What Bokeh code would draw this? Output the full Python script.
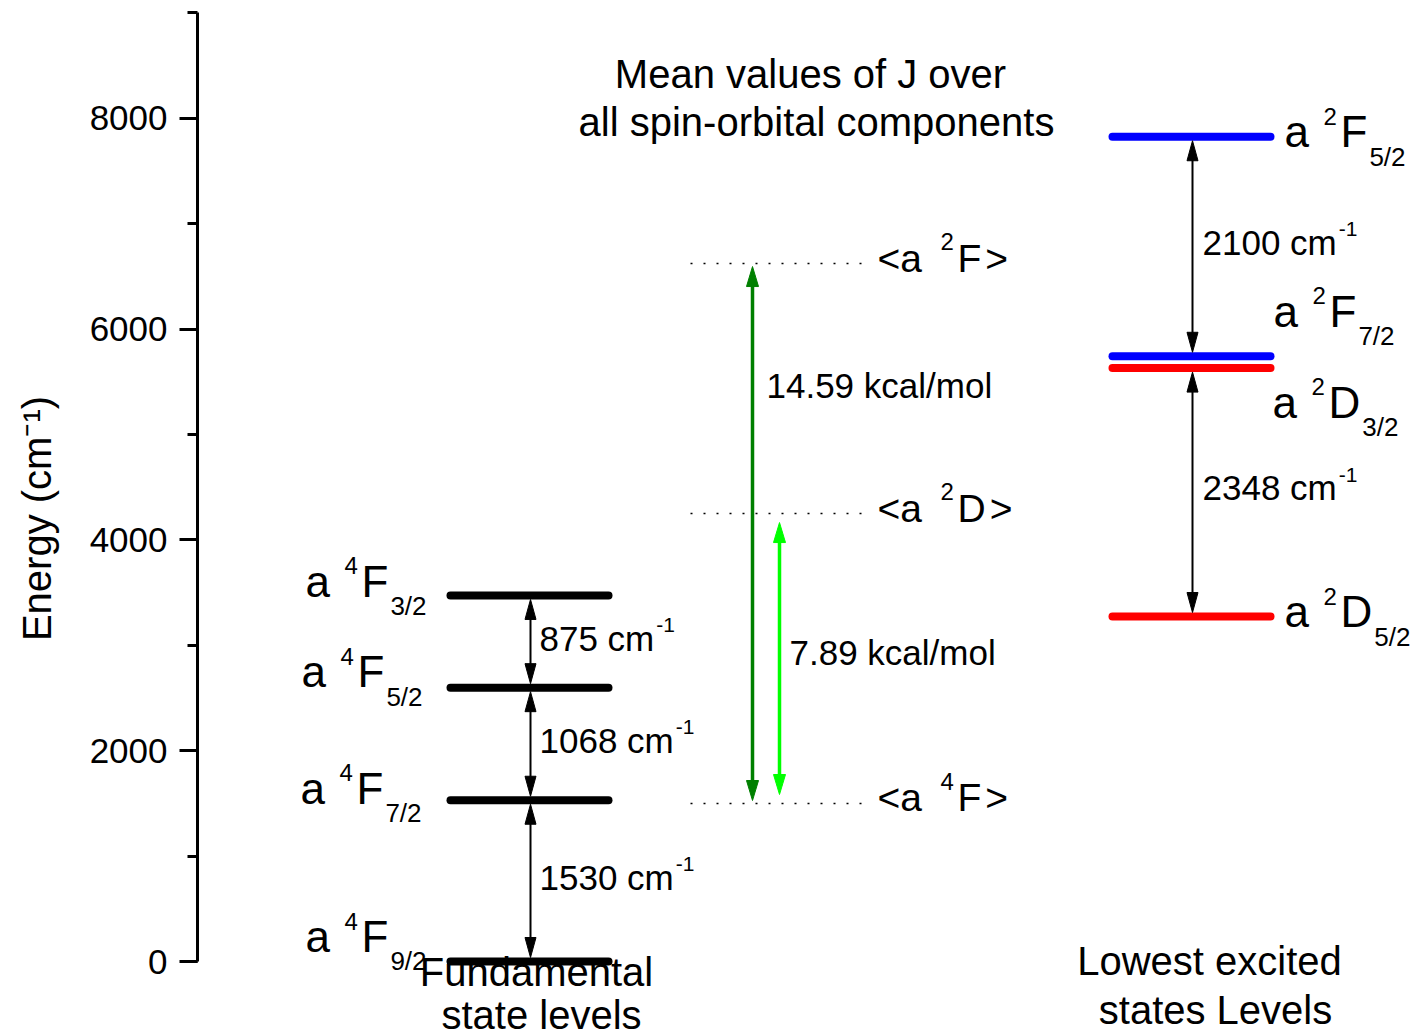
from bokeh.plotting import figure
from bokeh.models import Range1d, SingleIntervalTicker, ColumnDataSource
from bokeh.embed import file_html
from bokeh.resources import INLINE
from bokeh.core.properties import value

# ---------------- data ----------------
ground_J = ["9/2", "7/2", "5/2", "3/2"]
ground_E = [0, 1530, 2598, 3473]
ground_gap_text = ["1530", "1068", "875"]

excited_L = ["D", "D", "F", "F"]
excited_J = ["5/2", "3/2", "7/2", "5/2"]
excited_E = [3273, 5630, 5742, 7825]
excited_color = ["#ff0000", "#ff0000", "#0000ff", "#0000ff"]
excited_gap_pairs = [(0, 1), (2, 3)]
excited_gap_text = ["2348", "2100"]

mean_mult = ["4", "2", "2"]
mean_L = ["F", "D", "F"]
mean_E = [1499, 4250, 6622]
kcal_pairs = [(0, 2), (0, 1)]
kcal_text = ["14.59", "7.89"]

y_ticks_interval = 2000
axis_bounds = (0, 9000)

# ---------------- layout helpers ----------------
W, H = 1416, 1036
LEFT = 197
PX0 = 961.0      # pixel row of energy 0
S = 0.1054       # pixels per cm-1
FONT = "Liberation Sans"

def yd(px):
    return (PX0 - px) / S

def dpx(px):
    return px / S

ADV = {"0": 556, "1": 556, "2": 556, "3": 556, "4": 556, "5": 556, "6": 556,
       "7": 556, "8": 556, "9": 556, " ": 278, "c": 500, "m": 833, ".": 278,
       "F": 611, "D": 722, "a": 556, "<": 584, ">": 584}

def width(s, size):
    return sum(ADV.get(ch, 556) for ch in s) * size / 1000.0

p = figure(width=W, height=H, x_range=Range1d(LEFT, W), y_range=Range1d(yd(H), yd(0)),
           x_axis_location=None, y_axis_location="left", toolbar_location=None,
           output_backend="svg", min_border_left=LEFT, min_border_right=0,
           min_border_top=0, min_border_bottom=0)
p.outline_line_color = None
p.grid.visible = False
p.background_fill_color = "white"
p.border_fill_color = "white"

ax = p.yaxis[0]
ax.ticker = SingleIntervalTicker(interval=y_ticks_interval, num_minor_ticks=2)
ax.bounds = axis_bounds
ax.axis_line_width = 3
ax.major_tick_line_width = 3
ax.minor_tick_line_width = 3
ax.major_tick_out = 18
ax.major_tick_in = 0
ax.minor_tick_out = 10
ax.minor_tick_in = 0
ax.major_label_text_font = FONT
ax.major_label_text_font_size = "35px"
ax.major_label_text_color = "black"
ax.major_label_standoff = 12
ax.axis_label = "Energy (cm\u207b\u00b9)"
ax.axis_label_text_font = FONT
ax.axis_label_text_font_size = "40px"
ax.axis_label_text_font_style = "normal"
ax.axis_label_text_color = "black"
ax.axis_label_standoff = 28

# text collector
texts = {}
def put(x, y, s, size, align="left", baseline="alphabetic"):
    if baseline == "alphabetic":
        y = y + dpx(0.27 * size)   # renderer places alphabetic text slightly low
    key = (size, align, baseline)
    d = texts.setdefault(key, {"x": [], "y": [], "t": []})
    d["x"].append(x); d["y"].append(y); d["t"].append(s)

heads = {}
def arrow(x, e0, e1, color, lw, hw, hl, inset):
    y0 = e0 + dpx(inset)
    y1 = e1 - dpx(inset)
    p.segment(x0=[x], y0=[y0 + dpx(hl * 0.5)], x1=[x], y1=[y1 - dpx(hl * 0.5)],
              line_color=color, line_width=lw)
    d = heads.setdefault(color, {"xs": [], "ys": []})
    d["xs"].append([x, x - hw / 2, x + hw / 2])
    d["ys"].append([y1, y1 - dpx(hl), y1 - dpx(hl)])
    d["xs"].append([x, x - hw / 2, x + hw / 2])
    d["ys"].append([y0, y0 + dpx(hl), y0 + dpx(hl)])

MAIN, SUP, SUB = 44, 24, 26

def term(x0, base, mult, L, J):
    put(x0, base, "a", MAIN)
    put(x0 + 39, base + dpx(21), mult, SUP)
    put(x0 + 56, base, L, MAIN)
    put(x0 + 56 + width(L, MAIN) + 2, base - dpx(20), J, SUB)

# ---------------- ground levels ----------------
GX0, GX1 = 450, 608
p.segment(x0=[GX0] * len(ground_E), y0=ground_E, x1=[GX1] * len(ground_E), y1=ground_E,
          line_color="black", line_width=8, line_cap="round")
left_dy = [-13, 0, -4, -2]
left_x = [305, 300, 301, 305]
for E, J, dy, x0 in zip(ground_E, ground_J, left_dy, left_x):
    term(x0, E - dpx(dy), "4", "F", J)

for (lo, hi), g in zip(zip(ground_E[:-1], ground_E[1:]), ground_gap_text):
    arrow(530, lo, hi, "black", 2, 11, 20, 4)
    mid = (lo + hi) / 2 - dpx(6)
    s = g + " cm"
    put(539, mid, s, 35)
    put(539 + width(s, 35) + 2, mid + dpx(17), "-1", 21)

# ---------------- excited levels ----------------
EX0, EX1 = 1112, 1270
p.segment(x0=[EX0] * len(excited_E), y0=excited_E, x1=[EX1] * len(excited_E), y1=excited_E,
          line_color=excited_color, line_width=8, line_cap="round")
right_dy = [7, 46, -33, 7]
right_x = [1284, 1272, 1273, 1284]
for E, L, J, dy, x0 in zip(excited_E, excited_L, excited_J, right_dy, right_x):
    term(x0, E - dpx(dy), "2", L, J)

for (i, j), g in zip(excited_gap_pairs, excited_gap_text):
    lo, hi = excited_E[i], excited_E[j]
    arrow(1192, lo, hi, "black", 2, 11, 20, 4)
    mid = (lo + hi) / 2 - dpx(5)
    s = g + " cm"
    put(1202, mid, s, 35)
    put(1202 + width(s, 35) + 2, mid + dpx(17), "-1", 21)

# ---------------- mean values ----------------
p.segment(x0=[690] * len(mean_E), y0=mean_E, x1=[862] * len(mean_E), y1=mean_E,
          line_color="black", line_width=1.5, line_dash="2 11")
for E, m, L in zip(mean_E, mean_mult, mean_L):
    base = E - dpx(5)
    put(877, base, "<a", 39)
    put(940, base + dpx(21), m, SUP)
    put(957, base, L, 39)
    put(957 + width(L, 39) + 4, base, ">", 39)

arrow(752, mean_E[kcal_pairs[0][0]], mean_E[kcal_pairs[0][1]], "#008000", 3.5, 12, 20, 3)
arrow(779, mean_E[kcal_pairs[1][0]], mean_E[kcal_pairs[1][1]], "#00ff00", 3.5, 12, 20, 9)
kcal_x = [766, 789]
kcal_frac = [0.774, 0.52]
for (i, j), t, x, f in zip(kcal_pairs, kcal_text, kcal_x, kcal_frac):
    lo, hi = mean_E[i], mean_E[j]
    put(x, lo + (hi - lo) * f, t + " kcal/mol", 35, baseline="middle")

# ---------------- captions ----------------
put(810, yd(73), "Mean values of J over", 40, "center", "middle")
put(816, yd(121), "all spin-orbital components", 40, "center", "middle")
put(536, yd(971), "Fundamental", 40, "center", "middle")
put(541, yd(1014), "state levels", 40, "center", "middle")
put(1209, yd(960), "Lowest excited", 40, "center", "middle")
put(1215, yd(1009), "states Levels", 40, "center", "middle")

for color, d in heads.items():
    p.patches(xs=d["xs"], ys=d["ys"], fill_color=color, line_color=color, line_width=1)

for (size, align, baseline), d in texts.items():
    src = ColumnDataSource(dict(x=d["x"], y=d["y"], t=d["t"]))
    p.text(x="x", y="y", text="t", source=src, text_font=value(FONT),
           text_font_size=f"{size}px", text_align=align, text_baseline=baseline,
           text_color="black")

open("out.html", "w").write(file_html(p, INLINE))
